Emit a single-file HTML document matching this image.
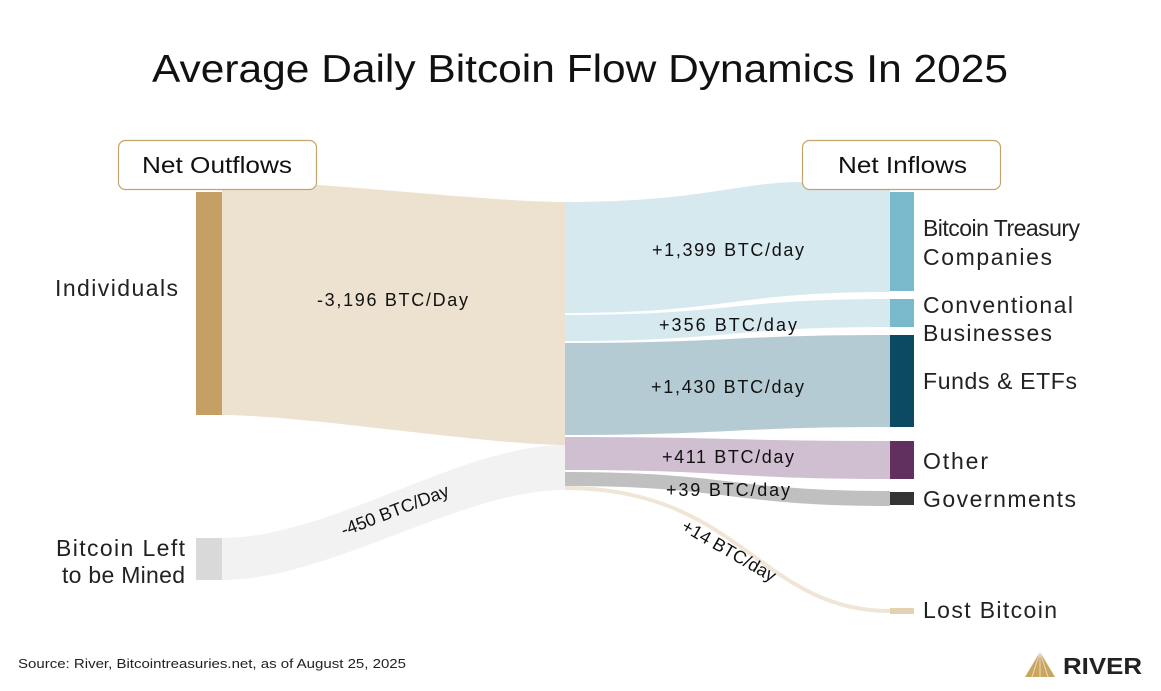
<!DOCTYPE html>
<html><head><meta charset="utf-8"><style>
body{margin:0;background:#fff;}
svg{display:block;font-family:"Liberation Sans",sans-serif;}
</style></head><body>
<svg width="1161" height="691" viewBox="0 0 1161 691" xmlns="http://www.w3.org/2000/svg">
<rect width="1161" height="691" fill="#fff"/>
<text x="152" y="82" font-size="39" fill="#111" textLength="856" lengthAdjust="spacingAndGlyphs">Average Daily Bitcoin Flow Dynamics In 2025</text>

<path d="M222,180 C300,180 490,202 565,202 L565,445 C490,445 300,415 222,415Z" fill="#ede2d0"/>
<path d="M222,538 C330,538 460,445 565,445 L565,490 C460,490 330,580 222,580Z" fill="#f2f2f2"/>

<path d="M565,202 C700,202 740,182 800,182 L890,190 L890,292 C730,292 730,313 565,313Z" fill="#d6e9ef"/>
<path d="M565,315 C730,315 730,299 890,299 L890,327 C730,327 730,341 565,341Z" fill="#d6e9ef"/>
<path d="M565,343 C730,343 730,335 890,335 L890,427 C730,427 730,435 565,435Z" fill="#b5cbd3"/>
<path d="M565,437 C730,437 730,441 890,441 L890,479 C730,479 730,470 565,470Z" fill="#d0bfd0"/>
<path d="M565,472 C730,472 730,491 890,491 L890,506 C730,506 730,486 565,486Z" fill="#c0c0c0"/>
<path d="M565,488 C740,488 760,611 890,611" fill="none" stroke="#efe6d6" stroke-width="4"/>

<rect x="196" y="192" width="26" height="223" fill="#c59f64"/>
<rect x="196" y="538" width="26" height="42" fill="#d9d9d9"/>
<rect x="890" y="192" width="24" height="99" fill="#7ab8cb"/>
<rect x="890" y="299" width="24" height="28" fill="#7ab8cb"/>
<rect x="890" y="335" width="24" height="92" fill="#0b4a60"/>
<rect x="890" y="441" width="24" height="38" fill="#62305f"/>
<rect x="890" y="492" width="24" height="13" fill="#333"/>
<rect x="890" y="608" width="24" height="6" fill="#e3d2b1"/>

<rect x="118.5" y="140.5" width="198" height="49" rx="7" fill="#fff" stroke="#c5a46c" stroke-width="1.2"/>
<text x="142" y="173" font-size="23" fill="#111" textLength="150" lengthAdjust="spacingAndGlyphs">Net Outflows</text>
<rect x="802.5" y="140.5" width="198" height="49" rx="7" fill="#fff" stroke="#c5a46c" stroke-width="1.2"/>
<text x="838" y="173" font-size="23" fill="#111" textLength="129" lengthAdjust="spacingAndGlyphs">Net Inflows</text>

<g font-size="18" fill="#111" lengthAdjust="spacingAndGlyphs">
<text x="317" y="306" textLength="151">-3,196 BTC/Day</text>
<text x="652" y="256" textLength="152">+1,399 BTC/day</text>
<text x="659" y="331" textLength="138">+356 BTC/day</text>
<text x="651" y="393" textLength="153">+1,430 BTC/day</text>
<text x="662" y="463" textLength="132">+411 BTC/day</text>
<text x="666" y="496" textLength="124">+39 BTC/day</text>
<text transform="translate(397,516) rotate(-21)" text-anchor="middle">-450 BTC/Day</text>
<text transform="translate(726,556) rotate(30)" text-anchor="middle">+14 BTC/day</text>
</g>

<g font-size="23" fill="#222" lengthAdjust="spacingAndGlyphs">
<text x="55" y="296" textLength="123">Individuals</text>
<text x="56" y="556" textLength="129">Bitcoin Left</text>
<text x="62" y="583" textLength="123">to be Mined</text>
<text x="923" y="236" textLength="157">Bitcoin Treasury</text>
<text x="923" y="265" textLength="129">Companies</text>
<text x="923" y="313" textLength="150">Conventional</text>
<text x="923" y="341" textLength="129">Businesses</text>
<text x="923" y="389" textLength="154">Funds &amp; ETFs</text>
<text x="923" y="469" textLength="65">Other</text>
<text x="923" y="507" textLength="153">Governments</text>
<text x="923" y="618" textLength="134">Lost Bitcoin</text>
</g>

<text x="18" y="668" font-size="13" fill="#222" textLength="388" lengthAdjust="spacingAndGlyphs">Source: River, Bitcointreasuries.net, as of August 25, 2025</text>

<g>
<path d="M1040,652 L1055,677 L1025,677Z" fill="#c9a560"/>
<path d="M1040,652 L1032,677 M1040,652 L1040,677 M1040,652 L1048,677" stroke="#fff" stroke-width="1" opacity="0.6"/>
<text x="1063" y="674" font-size="23" font-weight="bold" fill="#222" textLength="79" lengthAdjust="spacingAndGlyphs">RIVER</text>
</g>
</svg>
</body></html>
